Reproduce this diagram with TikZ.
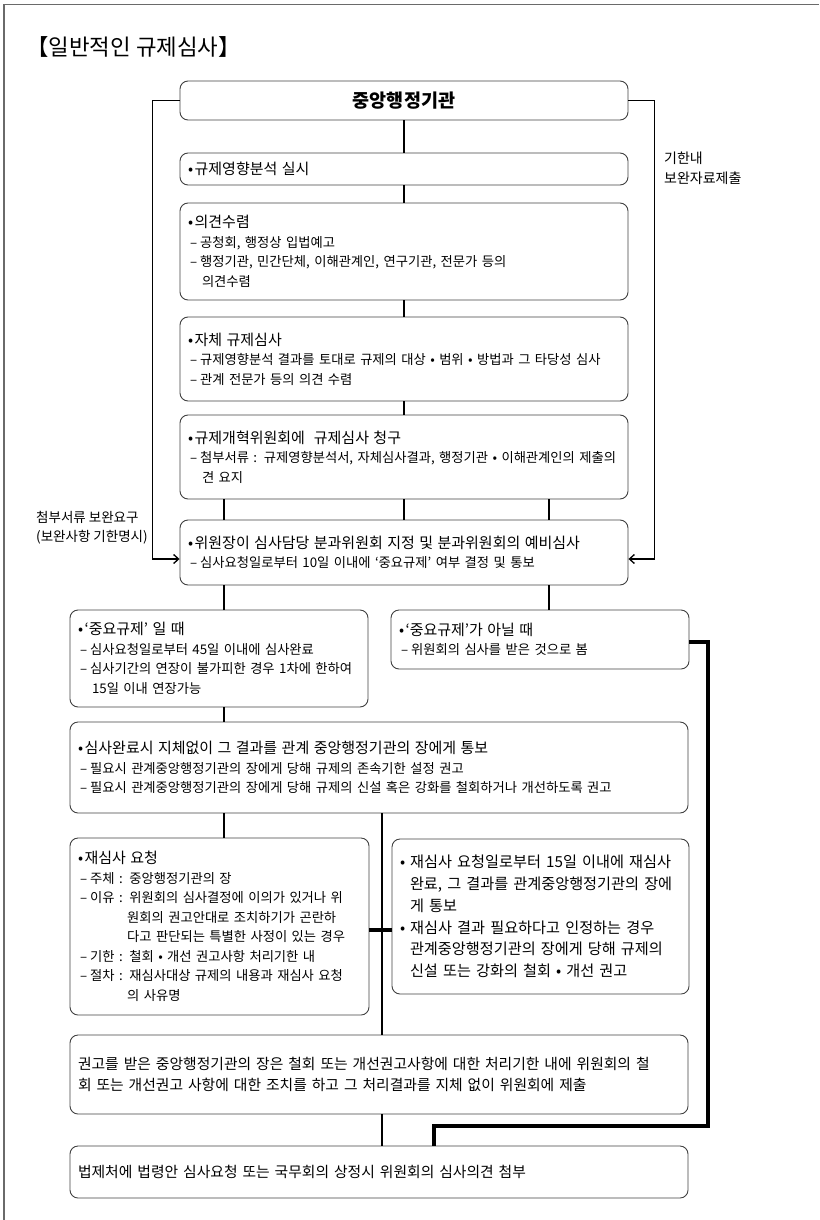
\documentclass[tikz,border=0pt]{standalone}
\usepackage{fontspec}
\setmainfont{Noto Sans CJK KR}
\usetikzlibrary{arrows.meta,calc}
\definecolor{boxc}{HTML}{404040}
\definecolor{framec}{HTML}{6A6A6A}
\newcommand{\hdl}[1]{{\fontsize{15pt}{19.5pt}\selectfont •\hspace{1.5pt}\mbox{#1}}}
\newcommand{\dsh}{\hspace*{2pt}–\hspace{3pt}}
\newcommand{\cnt}{\hspace*{14pt}}
\tikzset{
  box/.style={draw=boxc, line width=0.9pt, rounded corners=8pt, inner xsep=8pt, inner ysep=2pt, align=left, font=\fontsize{13.3pt}{19.5pt}\selectfont},
  ln/.style={line width=1.7pt, black},
  thk/.style={line width=3.2pt, black},
  lbl/.style={align=left, inner sep=0pt},
  arr/.style={ln, -{Straight Barb[length=5pt,width=9pt,line width=1.3pt]}}
}
\begin{document}
\begin{tikzpicture}[x=1pt,y=-1pt]
\useasboundingbox (0,0) rectangle (819,1220);
\draw[framec, line width=1.6pt] (4,1220) -- (4,4.5) -- (819,4.5);
\node[anchor=west, inner sep=0pt, font=\fontsize{22.4pt}{25pt}\selectfont] (title) at (26,47) {【일반적인 규제심사】};

\node[box, align=center, minimum width=448pt, minimum height=39pt, text width=432pt] (b1) at (404,100.5) {\fontsize{18.5pt}{21pt}\selectfont\bfseries 중앙행정기관};
\node[box, minimum width=448pt, minimum height=32pt, text width=432pt] (b2) at (404,169) {\hdl{규제영향분석 실시}};
\node[box, minimum width=448pt, minimum height=97pt, text width=432pt] (b3) at (404,251.5) {\hdl{의견수렴}\\
\dsh\mbox{공청회, 행정상 입법예고}\\
\dsh\mbox{행정기관, 민간단체, 이해관계인, 연구기관, 전문가 등의}\\
\cnt 의견수렴};
\node[box, minimum width=448pt, minimum height=84pt, text width=432pt] (b4) at (404,359) {\hdl{자체 규제심사}\\
\dsh\mbox{규제영향분석 결과를 토대로 규제의 대상 • 범위 • 방법과 그 타당성 심사}\\
\dsh\mbox{관계 전문가 등의 의견 수렴}};
\node[box, minimum width=448pt, minimum height=84pt, text width=432pt] (b5) at (404,457) {\hdl{규제개혁위원회에\ \ 규제심사 청구}\\
\dsh\mbox{첨부서류 : 규제영향분석서, 자체심사결과, 행정기관 • 이해관계인의 제출의}\\
\cnt 견 요지};
\node[box, minimum width=448pt, minimum height=65pt, text width=432pt] (b6) at (404,552.5) {\hdl{위원장이 심사담당 분과위원회 지정 및 분과위원회의 예비심사}\\
\dsh\mbox{심사요청일로부터 10일 이내에 ‘중요규제’ 여부 결정 및 통보}};

\node[box, minimum width=298pt, minimum height=97pt, text width=282pt] (b7) at (219,658.5) {\hdl{‘중요규제’ 일 때}\\
\dsh\mbox{심사요청일로부터 45일 이내에 심사완료}\\
\dsh\mbox{심사기간의 연장이 불가피한 경우 1차에 한하여}\\
\cnt\mbox{15일 이내 연장가능}};
\node[box, minimum width=298pt, minimum height=59pt, text width=282pt] (b8) at (540,639.5) {\hdl{‘중요규제’가 아닐 때}\\
\dsh\mbox{위원회의 심사를 받은 것으로 봄}};

\node[box, minimum width=618pt, minimum height=91pt, text width=602pt] (b9) at (379,767.5) {\hdl{심사완료시 지체없이 그 결과를 관계 중앙행정기관의 장에게 통보}\\
\dsh\mbox{필요시 관계중앙행정기관의 장에게 당해 규제의 존속기한 설정 권고}\\
\dsh\mbox{필요시 관계중앙행정기관의 장에게 당해 규제의 신설 혹은 강화를 철회하거나 개선하도록 권고}};

\node[box, minimum width=299pt, minimum height=177pt, text width=283pt] (b10) at (219.5,926.5) {\hdl{재심사 요청}\\
\dsh\mbox{주체 : 중앙행정기관의 장}\\
\dsh\mbox{이유 : 위원회의 심사결정에 이의가 있거나 위}\\
\hspace*{2pt}\hphantom{–\hspace{3pt}이유 :\ }\mbox{원회의 권고안대로 조치하기가 곤란하}\\
\hspace*{2pt}\hphantom{–\hspace{3pt}이유 :\ }\mbox{다고 판단되는 특별한 사정이 있는 경우}\\
\dsh\mbox{기한 : 철회 • 개선 권고사항 처리기한 내}\\
\dsh\mbox{절차 : 재심사대상 규제의 내용과 재심사 요청}\\
\hspace*{2pt}\hphantom{–\hspace{3pt}절차 :\ }의 사유명};
\node[box, minimum width=297pt, minimum height=155pt, text width=281pt, font=\fontsize{15.2pt}{21.8pt}\selectfont] (b10b) at (540.5,916.5) {\mbox{• 재심사 요청일로부터 15일 이내에 재심사}\\
\hspace*{10pt}\mbox{완료, 그 결과를 관계중앙행정기관의 장에}\\
\hspace*{10pt}게 통보\\
\mbox{• 재심사 결과 필요하다고 인정하는 경우}\\
\hspace*{10pt}\mbox{관계중앙행정기관의 장에게 당해 규제의}\\
\hspace*{10pt}\mbox{신설 또는 강화의 철회 • 개선 권고}};

\node[box, minimum width=618pt, minimum height=79pt, text width=602pt, font=\fontsize{14.8pt}{21pt}\selectfont] (b11) at (379,1074.5) {\mbox{권고를 받은 중앙행정기관의 장은 철회 또는 개선권고사항에 대한 처리기한 내에 위원회의 철}\\
\mbox{회 또는 개선권고 사항에 대한 조치를 하고 그 처리결과를 지체 없이 위원회에 제출}};
\node[box, minimum width=618pt, minimum height=52pt, text width=602pt, font=\fontsize{14.8pt}{21pt}\selectfont] (b12) at (379,1172) {\mbox{법제처에 법령안 심사요청 또는 국무회의 상정시 위원회의 심사의견 첨부}};

\node[lbl, anchor=north west, font=\fontsize{14pt}{19.5pt}\selectfont] (lr) at (664,152) {기한내\\보완자료제출};
\node[lbl, anchor=north west, font=\fontsize{13.5pt}{19.5pt}\selectfont] (ll) at (36,511) {첨부서류 보완요구\\(보완사항 기한명시)};

\coordinate (xL) at (224,0);
\coordinate (xM) at (404,0);
\coordinate (xR) at (549,0);
\coordinate (xC) at (382,0);
\coordinate (kr) at (708,1126);
\coordinate (kl) at (434,1126);

\draw[ln] (b1) -- (b2);
\draw[ln] (b2) -- (b3);
\draw[ln] (b3) -- (b4);
\draw[ln] (b4) -- (b5);
\draw[ln] (b5.south -| xL) -- (b6.north -| xL);
\draw[ln] (b5.south -| xM) -- (b6.north -| xM);
\draw[ln] (b5.south -| xR) -- (b6.north -| xR);
\draw[ln] (b6.south -| xL) -- (b7.north -| xL);
\draw[ln] (b6.south -| xR) -- (b8.north -| xR);
\draw[ln] (b7.south -| xL) -- (b9.north -| xL);
\draw[ln] (b9.south -| xL) -- (b10.north -| xL);
\draw[ln] (b9.south -| xC) -- (b11.north -| xC);
\draw[ln] (b11.south -| xC) -- (b12.north -| xC);
\draw[thk] ([yshift=-3.5pt]b10.east) -- ([yshift=-3.5pt]b10.east -| b10b.west);
\draw[thk, line join=miter] ([yshift=-2.5pt]b8.east) -| (kr) -- (kl) -- (b12.north -| kl);

\draw[arr] (b1.west) -- ++(-27,0) |- ([yshift=-6.5pt]b6.west);
\draw[arr] (b1.east) -- ++(26,0) |- ([yshift=-6.5pt]b6.east);
\end{tikzpicture}
\end{document}
